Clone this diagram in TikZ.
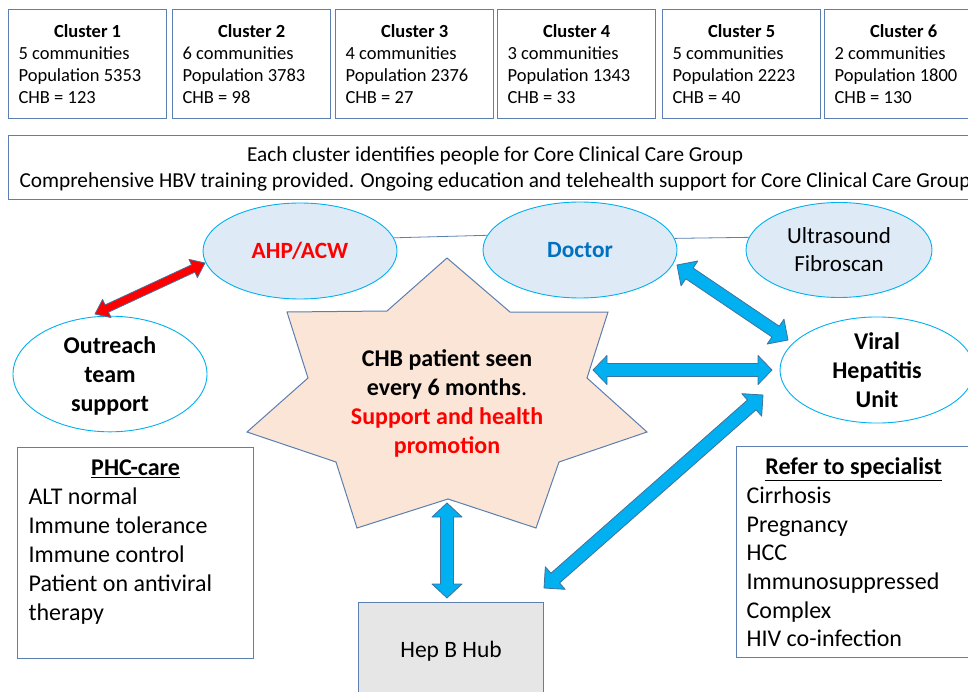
\documentclass[tikz,border=0pt]{standalone}
\usepackage{fontspec}
\setmainfont{Carlito}
\usetikzlibrary{shapes.geometric,calc}
\definecolor{edge}{HTML}{5B7FB0}
\definecolor{cyanb}{HTML}{00B0F0}
\definecolor{ellfill}{HTML}{DEEBF7}
\definecolor{starfill}{HTML}{FBE5D6}
\definecolor{hubfill}{HTML}{E7E6E6}
\definecolor{docblue}{HTML}{0070C0}
\definecolor{arrowedge}{HTML}{41719C}
\definecolor{myred}{HTML}{FF0000}
\newcommand\dblarr[6]{%
  \coordinate (dp) at ($(#1)!#5!(#2)$);
  \coordinate (dq) at ($(#2)!#5!(#1)$);
  \draw[#6] (#1) -- ($(dp)!#4!90:(#2)$) -- ($(dp)!#3!90:(#2)$) -- ($(dq)!#3!-90:(#1)$) -- ($(dq)!#4!-90:(#1)$) -- (#2) -- ($(dq)!#4!90:(#1)$) -- ($(dq)!#3!90:(#1)$) -- ($(dp)!#3!-90:(#2)$) -- ($(dp)!#4!-90:(#2)$) -- cycle;}
\newcommand\topbox[3]{\parbox[c][#2][t]{#1}{#3}}
\newcommand\clus[4]{\topbox{138pt}{109pt}{\fontsize{18.5}{22}\selectfont\rule{0pt}{28pt}\makebox[\linewidth]{\bfseries Cluster #1}\\#2 communities\\Population #3\\CHB = #4}}
\tikzset{
  box/.style={draw=edge, line width=1.2pt, inner xsep=10pt, inner ysep=0pt, anchor=north west},
  ell/.style={ellipse, draw=cyanb, line width=0.9pt, inner sep=0pt, minimum width=194pt, minimum height=96pt, align=center},
  bluearr/.style={fill=cyanb, draw=arrowedge, line width=0.8pt, line join=round},
  redarr/.style={fill=myred, draw=arrowedge, line width=0.8pt, line join=round},
  thinline/.style={draw=edge, line width=0.8pt}
}
\begin{document}
\begin{tikzpicture}[x=1pt,y=-1pt]
\useasboundingbox (0,0) rectangle (968,692);
\clip (0,0) rectangle (968,692);
% clusters
\node[box] (c1) at (8,9) {\clus{1}{5}{5353}{123}};
\node[box] (c2) at (172,9) {\clus{2}{6}{3783}{98}};
\node[box] (c3) at (335,9) {\clus{3}{4}{2376}{27}};
\node[box] (c4) at (497,9) {\clus{4}{3}{1343}{33}};
\node[box] (c5) at (662,9) {\clus{5}{5}{2223}{40}};
\node[box] (c6) at (824,9) {\clus{6}{2}{1800}{130}};
% wide box
\node[box] (wide) at (8,135) {\topbox{953pt}{64pt}{\centering\fontsize{21.3}{26}\selectfont\rule{0pt}{26pt}Each cluster identifies people for Core Clinical Care Group\\Comprehensive HBV training provided. Ongoing education and telehealth support for Core Clinical Care Group}};
% ellipses
\node[ell, fill=ellfill, text=myred, font=\bfseries\fontsize{23.3}{28}\selectfont] (ahp) at (300,251) {AHP/ACW};
\node[ell, fill=ellfill, text=docblue, font=\bfseries\fontsize{23.3}{28}\selectfont] (doc) at (580,250) {Doctor};
\node[ell, fill=ellfill, minimum width=186pt, minimum height=95pt, font=\fontsize{23}{28}\selectfont] (us) at (839,250) {Ultrasound\\Fibroscan};
\node[ell, fill=white, font=\bfseries\fontsize{24}{29}\selectfont] (out) at (110,374) {\rule{0pt}{20pt}Outreach\\team\\support};
\node[ell, fill=white, font=\bfseries\fontsize{24}{29}\selectfont] (vhu) at (877,370) {Viral\\Hepatitis\\Unit};
\draw[thinline] (ahp.8) -- (doc.171);
\draw[thinline] (doc.7.5) -- (us.172);
% star
\draw[draw=edge, fill=starfill, line width=1pt, line join=miter]
  (447,258) -- (510,312) -- (608,312) -- (587,378) -- (647,432) -- (559,462) -- (536,528) -- (448,499)
  -- (357,528) -- (336,462) -- (247,432) -- (308,378) -- (287,312) -- (387,311) -- cycle;
\node[align=center, font=\bfseries\fontsize{24}{29}\selectfont] (star) at (447,403.5)
  {CHB patient seen\\every 6 months\textmd{.}\\\textcolor{myred}{Support and health}\\\textcolor{myred}{promotion}};
% hub
\node[draw=edge, line width=1.2pt, fill=hubfill, minimum width=185pt, minimum height=98pt, anchor=north west, font=\fontsize{23.5}{28}\selectfont] (hub) at (358,602) {Hep B Hub};
% PHC box
\node[box, inner xsep=11pt] (phc) at (17,447) {\topbox{214pt}{211pt}{\fontsize{24}{29}\selectfont\rule{0pt}{28pt}\makebox[\linewidth]{\bfseries\underline{PHC-care}}\\ALT normal\\Immune tolerance\\Immune control\\Patient on antiviral\\therapy}};
% refer box
\node[box] (ref) at (736,446) {\topbox{214pt}{211pt}{\fontsize{24}{28.7}\selectfont\rule{0pt}{28pt}\makebox[\linewidth]{\bfseries\underline{Refer to specialist}}\\Cirrhosis\\Pregnancy\\HCC\\Immunosuppressed\\Complex\\HIV co-infection}};
% arrow tips
\coordinate (rA) at (95,314);
\coordinate (rB) at (205,263);
\coordinate (dA) at (677,265);
\coordinate (dB) at (788,340);
\coordinate (hA) at (593,370);
\coordinate (hB) at (772,370);
\coordinate (gA) at (544,588);
\coordinate (gB) at (763,395);
\coordinate (vA) at (447,503);
\coordinate (vB) at (447,598);
\dblarr{rA}{rB}{4pt}{10pt}{13pt}{redarr}
\dblarr{dA}{dB}{6.5pt}{15pt}{15pt}{bluearr}
\dblarr{hA}{hB}{6.5pt}{14.5pt}{14pt}{bluearr}
\dblarr{gA}{gB}{6.5pt}{15pt}{15pt}{bluearr}
\dblarr{vA}{vB}{6.5pt}{15pt}{14pt}{bluearr}
\end{tikzpicture}
\end{document}
